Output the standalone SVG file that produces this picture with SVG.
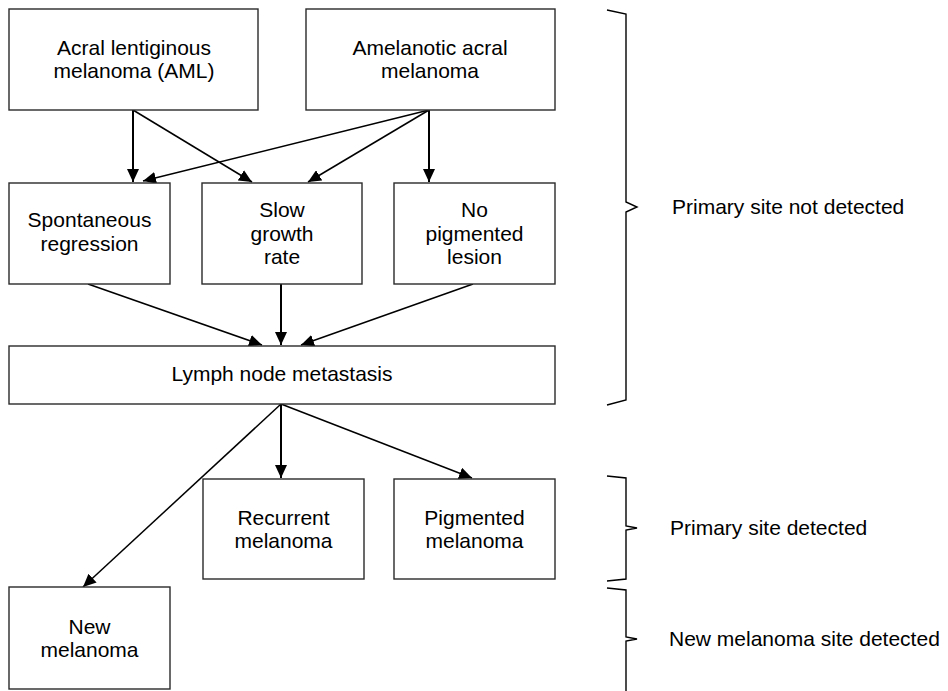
<svg xmlns="http://www.w3.org/2000/svg" width="948" height="691" viewBox="0 0 948 691">
<style>
  .box { fill: #ffffff; stroke: #2a2a2a; stroke-width: 1.4; }
  .t { font-family: "Liberation Sans", Arial, sans-serif; font-size: 21px; fill: #000; text-anchor: middle; }
  .lbl { font-family: "Liberation Sans", Arial, sans-serif; font-size: 21px; fill: #000; }
  .c { stroke: #000; stroke-width: 1.5; fill: none; marker-end: url(#ah); }
  .v { stroke-width: 2; }
  .brace { stroke: #000; stroke-width: 1.4; fill: none; }
</style>
<defs>
  <marker id="ah" viewBox="0 0 13 12" refX="13" refY="6" markerWidth="13" markerHeight="12" markerUnits="userSpaceOnUse" orient="auto">
    <path d="M0,0 L13,6 L0,12 z" fill="#000"/>
  </marker>
</defs>
<rect width="948" height="691" fill="#ffffff"/>

<g id="connectors">
  <line class="c v" x1="133" y1="110" x2="133" y2="182"/>
  <line class="c" x1="133" y1="110" x2="252" y2="182"/>
  <line class="c" x1="429" y1="110" x2="143" y2="181"/>
  <line class="c" x1="429" y1="110" x2="308" y2="182"/>
  <line class="c v" x1="429" y1="110" x2="429" y2="182"/>
  <line class="c" x1="88" y1="284" x2="262" y2="345"/>
  <line class="c v" x1="281" y1="284" x2="281" y2="345"/>
  <line class="c" x1="473" y1="284" x2="301" y2="345"/>
  <line class="c v" x1="281" y1="404" x2="281" y2="478"/>
  <line class="c" x1="281" y1="404" x2="472" y2="478"/>
  <line class="c" x1="281" y1="404" x2="83" y2="587"/>
</g>

<g id="n-aml">
  <rect class="box" x="9" y="9" width="249" height="101"/>
  <text class="t" x="134" y="55">Acral lentiginous</text>
  <text class="t" x="134" y="78">melanoma (AML)</text>
</g>
<g id="n-amelanotic">
  <rect class="box" x="306" y="9" width="249" height="101"/>
  <text class="t" x="430" y="55">Amelanotic acral</text>
  <text class="t" x="430" y="78">melanoma</text>
</g>
<g id="n-spont">
  <rect class="box" x="9" y="183" width="161" height="101"/>
  <text class="t" x="89.5" y="227">Spontaneous</text>
  <text class="t" x="89.5" y="251">regression</text>
</g>
<g id="n-slow">
  <rect class="box" x="202" y="183" width="160" height="101"/>
  <text class="t" x="282" y="217">Slow</text>
  <text class="t" x="282" y="240.5">growth</text>
  <text class="t" x="282" y="264">rate</text>
</g>
<g id="n-nopig">
  <rect class="box" x="394" y="183" width="161" height="101"/>
  <text class="t" x="474.5" y="217">No</text>
  <text class="t" x="474.5" y="240.5">pigmented</text>
  <text class="t" x="474.5" y="264">lesion</text>
</g>
<g id="n-lymph">
  <rect class="box" x="9" y="346" width="546" height="58"/>
  <text class="t" x="282" y="381">Lymph node metastasis</text>
</g>
<g id="n-recurrent">
  <rect class="box" x="203" y="479" width="161" height="100"/>
  <text class="t" x="283.5" y="525">Recurrent</text>
  <text class="t" x="283.5" y="548">melanoma</text>
</g>
<g id="n-pigmented">
  <rect class="box" x="394" y="479" width="161" height="100"/>
  <text class="t" x="474.5" y="525">Pigmented</text>
  <text class="t" x="474.5" y="548">melanoma</text>
</g>
<g id="n-new">
  <rect class="box" x="9" y="587" width="161" height="102"/>
  <text class="t" x="89.5" y="634">New</text>
  <text class="t" x="89.5" y="657">melanoma</text>
</g>

<g id="brackets">
  <path class="brace" d="M607,10 L626,14 L626,202 L637,207 L626,212 L626,400 L607,405"/>
  <path class="brace" d="M607,476 L626,478 L626,526 L637,528 L626,530 L626,579 L607,581"/>
  <path class="brace" d="M607,588 L626,590 L626,637 L637,639 L626,641 L626,691"/>
</g>
<g id="labels">
  <text class="lbl" x="672" y="214">Primary site not detected</text>
  <text class="lbl" x="670" y="535">Primary site detected</text>
  <text class="lbl" x="669" y="646">New melanoma site detected</text>
</g>
</svg>
